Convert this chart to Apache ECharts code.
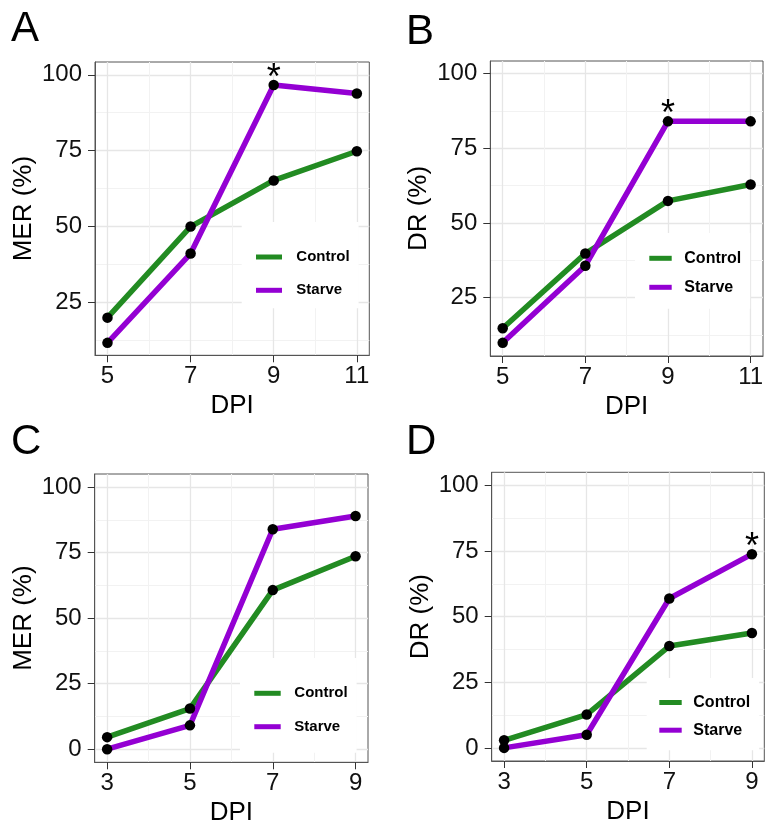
<!DOCTYPE html>
<html>
<head>
<meta charset="utf-8">
<script src="https://cdn.jsdelivr.net/npm/echarts@6/dist/echarts.min.js"></script>
<style>
html,body{margin:0;padding:0;background:#fff;}
#chart{width:782px;height:840px;}
</style>
</head>
<body>
<div id="chart"></div>
<script>
// ---- data ----
const panelLetters = ['A', 'B', 'C', 'D'];
const yTitles = ['MER (%)', 'DR (%)', 'MER (%)', 'DR (%)'];
const xTitle = 'DPI';
const seriesNames = ['Control', 'Starve'];

const dpiAB = [5, 7, 9, 11];
const dpiCD = [3, 5, 7, 9];

const controlA = [20, 50, 65.2, 74.8];
const starveA  = [11.7, 41.1, 96.6, 93.8];
const controlB = [14.8, 39.8, 57.4, 62.9];
const starveB  = [9.9, 35.7, 84.0, 84.0];
const controlC = [4.6, 15.5, 60.7, 73.6];
const starveC  = [0, 9.1, 83.9, 89.0];
const controlD = [2.9, 12.7, 38.8, 43.8];
const starveD  = [0, 5.0, 56.9, 73.8];

// index of the Starve point marked with "*" (-1 = none)
const starIndex = [2, 2, -1, 3];

const yTicks = [0, 25, 50, 75, 100];
const yMinor = [12.5, 37.5, 62.5, 87.5];
const xTicksAB = [5, 7, 9, 11];
const xMinorAB = [6, 8, 10];
const xTicksCD = [3, 5, 7, 9];
const xMinorCD = [4, 6, 8];

// ---- layout / style ----
const COL_CONTROL = '#228B22';
const COL_STARVE = '#9400D3';
const FONT = "'Liberation Sans', Arial, sans-serif";

const panels = [
  {x: dpiAB, c: controlA, s: starveA, xt: xTicksAB, xm: xMinorAB, xr: [4.7, 11.3], yr: [7.6, 104.2],
   grid: {left: 95, top: 62, width: 274.3, height: 293.3},
   title: {left: 6, top: 3},
   legend: {left: 241.7, top: 222, pad: [26, 9, 9, 14.3], iw: 26, fs: 15, lh: 18, gap: 15.3, tp: 9.3}},
  {x: dpiAB, c: controlB, s: starveB, xt: xTicksAB, xm: xMinorAB, xr: [4.7, 11.3], yr: [5.5, 104.2],
   grid: {left: 490.3, top: 61, width: 272.7, height: 295},
   title: {left: 401, top: 6},
   legend: {left: 635, top: 233, pad: [15.8, 9, 12, 14.3], iw: 22.4, fs: 16, lh: 19, gap: 10, tp: 7.6}},
  {x: dpiCD, c: controlC, s: starveC, xt: xTicksCD, xm: xMinorCD, xr: [2.7, 9.3], yr: [-5, 105],
   grid: {left: 94.7, top: 474, width: 273.3, height: 288.3},
   title: {left: 6, top: 416},
   legend: {left: 240, top: 658, pad: [26.3, 9, 17, 14.3], iw: 26.4, fs: 15, lh: 18, gap: 15.4, tp: 8.6}},
  {x: dpiCD, c: controlD, s: starveD, xt: xTicksCD, xm: xMinorCD, xr: [2.7, 9.3], yr: [-5, 105],
   grid: {left: 491.7, top: 472.3, width: 272.6, height: 288.7},
   title: {left: 401, top: 416},
   legend: {left: 646.7, top: 678, pad: [15, 9, 10.5, 12.6], iw: 22.4, fs: 16, lh: 19, gap: 8.7, tp: 6.6}}
];

const option = {
  animation: false,
  backgroundColor: '#fff',
  textStyle: {fontFamily: FONT},
  title: [], grid: [], xAxis: [], yAxis: [], legend: [], series: []
};

panels.forEach((p, i) => {
  option.title.push({
    text: panelLetters[i], left: p.title.left, top: p.title.top,
    textStyle: {fontFamily: FONT, fontSize: 42, fontWeight: 'normal', color: '#000'}
  });
  option.grid.push(Object.assign({show: true, borderColor: '#555', borderWidth: 1, backgroundColor: 'transparent', containLabel: false}, p.grid));

  const majX = option.xAxis.length;
  option.xAxis.push({
    type: 'value', gridIndex: i, min: p.xr[0], max: p.xr[1], position: 'bottom',
    name: xTitle, nameLocation: 'middle', nameGap: 38,
    nameTextStyle: {fontFamily: FONT, fontSize: 26, color: '#000'},
    axisLine: {show: true, onZero: false, lineStyle: {color: '#555', width: 1}},
    axisTick: {show: true, length: 7, customValues: p.xt, lineStyle: {color: '#333', width: 1}},
    axisLabel: {show: true, customValues: p.xt, margin: 9, fontSize: 24, color: '#111', fontFamily: FONT},
    splitLine: {show: true, lineStyle: {color: '#e6e6e6', width: 1.3}}
  });
  option.xAxis.push({
    type: 'value', gridIndex: i, min: p.xr[0], max: p.xr[1], position: 'bottom',
    axisLine: {show: false, onZero: false}, axisLabel: {show: false},
    axisTick: {show: false, customValues: p.xm},
    splitLine: {show: true, lineStyle: {color: '#f2f2f2', width: 1}}
  });
  const majY = option.yAxis.length;
  option.yAxis.push({
    type: 'value', gridIndex: i, min: p.yr[0], max: p.yr[1], position: 'left',
    name: yTitles[i], nameLocation: 'middle', nameGap: 58,
    nameTextStyle: {fontFamily: FONT, fontSize: 26, color: '#000'},
    axisLine: {show: true, onZero: false, lineStyle: {color: '#555', width: 1}},
    axisTick: {show: true, length: 7, customValues: yTicks, lineStyle: {color: '#333', width: 1}},
    axisLabel: {show: true, customValues: yTicks, margin: 13, fontSize: 24, color: '#111', fontFamily: FONT},
    splitLine: {show: true, lineStyle: {color: '#e6e6e6', width: 1.3}}
  });
  option.yAxis.push({
    type: 'value', gridIndex: i, min: p.yr[0], max: p.yr[1], position: 'left',
    axisLine: {show: false, onZero: false}, axisLabel: {show: false},
    axisTick: {show: false, customValues: yMinor},
    splitLine: {show: true, lineStyle: {color: '#f2f2f2', width: 1}}
  });

  const L = p.legend;
  option.legend.push({
    left: L.left, top: L.top, orient: 'vertical', selectedMode: false,
    backgroundColor: '#fff', padding: L.pad, itemGap: L.gap,
    itemWidth: L.iw, itemHeight: 5, icon: 'rect',
    textStyle: {fontFamily: FONT, fontSize: L.fs, lineHeight: L.lh, fontWeight: 'bold', color: '#000', padding: [0, 0, 0, L.tp]},
    data: [
      {name: seriesNames[0], icon: 'rect', itemStyle: {color: COL_CONTROL, borderWidth: 0}},
      {name: seriesNames[1], icon: 'rect', itemStyle: {color: COL_STARVE, borderWidth: 0}}
    ],
    z: 5
  });

  const vals = [p.c, p.s];
  const cols = [COL_CONTROL, COL_STARVE];
  vals.forEach((arr, k) => {
    option.series.push({
      type: 'line', name: seriesNames[k], xAxisIndex: majX, yAxisIndex: majY,
      data: p.x.map((xv, j) => [xv, arr[j]]),
      showSymbol: false, symbol: 'none',
      lineStyle: {color: cols[k], width: 5.5, cap: 'butt', join: 'round'},
      itemStyle: {color: cols[k]},
      z: 2 + k, silent: true
    });
  });
  vals.forEach((arr, k) => {
    option.series.push({
      type: 'scatter', name: seriesNames[k] + ' points', xAxisIndex: majX, yAxisIndex: majY,
      symbol: 'circle', symbolSize: 10.5,
      itemStyle: {color: '#000', opacity: 1},
      data: p.x.map((xv, j) => {
        if (k === 1 && j === starIndex[i]) {
          return {value: [xv, arr[j]], label: {show: true, formatter: '*', position: 'top', distance: 0,
            offset: [0, 17], fontSize: 36, color: '#000', fontFamily: FONT}};
        }
        return [xv, arr[j]];
      }),
      z: 6, silent: true
    });
  });
});

const chart = echarts.init(document.getElementById('chart'), null, {renderer: 'canvas'});
chart.setOption(option);
</script>
</body>
</html>
